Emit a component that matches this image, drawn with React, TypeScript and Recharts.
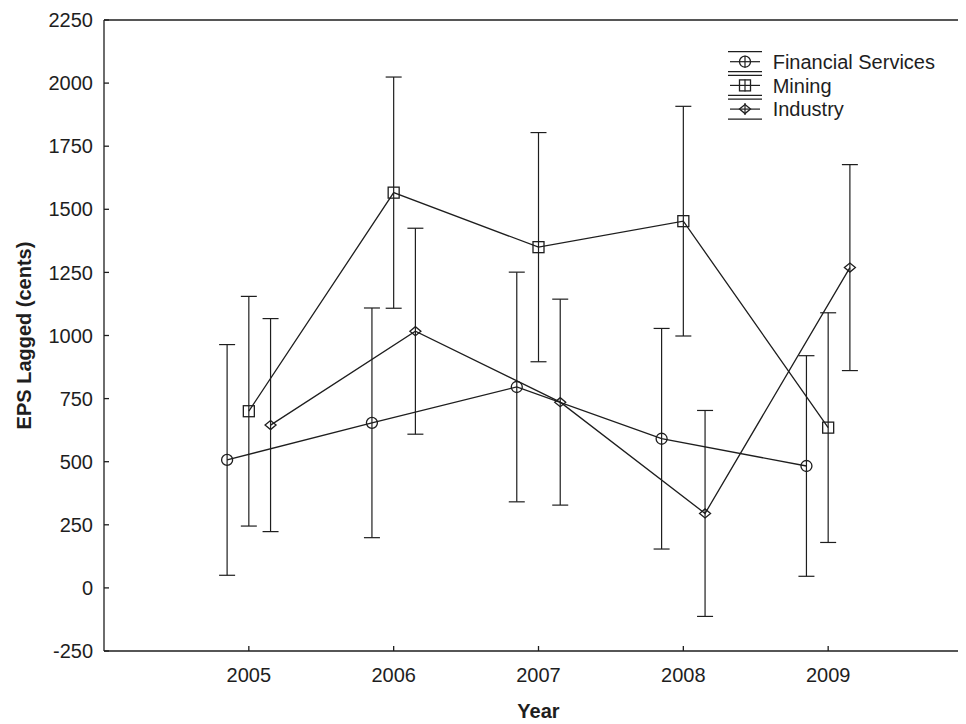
import React from 'react';
import { LineChart, Line, XAxis, YAxis, ErrorBar, Legend, ReferenceLine } from 'recharts';

const years = [2005, 2006, 2007, 2008, 2009];
const financialMean = [507, 654, 796, 591, 483];
const financialErr = [457, 455, 455, 437, 437];
const miningMean = [700, 1566, 1350, 1453, 635];
const miningErr = [455, 458, 454, 455, 455];
const industryMean = [645, 1017, 736, 295, 1269];
const industryErr = [422, 408, 408, 408, 408];
const yTicks = [-250, 0, 250, 500, 750, 1000, 1250, 1500, 1750, 2000, 2250];
const seriesNames = ['Financial Services', 'Mining', 'Industry'];

const DODGE = 0.15;
const INK = '#1e1e1e';
const FONT = '"Liberation Sans", Arial, Helvetica, sans-serif';

const build = (means: number[], errs: number[], shift: number) =>
  years.map((yr, i) => ({ x: yr + shift, y: means[i], err: errs[i] }));

const financialData = build(financialMean, financialErr, -DODGE);
const miningData = build(miningMean, miningErr, 0);
const industryData = build(industryMean, industryErr, DODGE);

const drawMarker = (kind: number, cx: number, cy: number, key?: any) => {
  if (kind === 0) {
    return <circle key={key} cx={cx} cy={cy} r={5.5} fill="none" stroke={INK} strokeWidth={1.3} />;
  }
  if (kind === 1) {
    return <rect key={key} x={cx - 5.5} y={cy - 5.5} width={11} height={11} fill="none" stroke={INK} strokeWidth={1.3} />;
  }
  return (
    <path
      key={key}
      d={`M${cx - 5.5},${cy} L${cx},${cy - 4.5} L${cx + 5.5},${cy} L${cx},${cy + 4.5} Z`}
      fill="none"
      stroke={INK}
      strokeWidth={1.3}
    />
  );
};

const makeDot = (kind: number) => (p: any) => {
  if (p.cx == null || p.cy == null) return <g key={p.key} />;
  return drawMarker(kind, p.cx, p.cy, p.key);
};

const LegendBox = () => {
  return (
    <svg width={240} height={95} style={{ fontFamily: FONT, overflow: 'visible' }}>
      {seriesNames.map((name: string, i: number) => {
        const cy = 23.7 + i * 23.7;
        const mx = 25;
        return (
          <g key={i}>
            <line x1={mx - 17} x2={mx + 17} y1={cy - 10} y2={cy - 10} stroke={INK} strokeWidth={1.2} />
            <line x1={mx - 17} x2={mx + 17} y1={cy + 10} y2={cy + 10} stroke={INK} strokeWidth={1.2} />
            <line x1={mx - 15} x2={mx + 15} y1={cy} y2={cy} stroke={INK} strokeWidth={1.2} />
            <line x1={mx} x2={mx} y1={cy - 6} y2={cy + 6} stroke={INK} strokeWidth={1.2} />
            {drawMarker(i, mx, cy)}
            <text x={52.7} y={cy} dy="0.36em" fontSize={20} fill={INK}>
              {name}
            </text>
          </g>
        );
      })}
    </svg>
  );
};

const YLabel = (props: any) => {
  const vb = props.viewBox || { x: 0, y: 0, width: 0, height: 0 };
  const x = vb.x + 16;
  const y = vb.y + vb.height / 2;
  return (
    <text
      x={x}
      y={y}
      transform={`rotate(-90, ${x}, ${y})`}
      textAnchor="middle"
      dy="0.36em"
      fontSize={20}
      fontWeight="bold"
      fill={INK}
    >
      EPS Lagged (cents)
    </text>
  );
};

export default function App() {
  return (
    <div style={{ width: 958, height: 716, overflow: 'hidden', background: '#fff' }}>
      <LineChart
        width={970}
        height={716}
        margin={{ top: 12, right: 5, bottom: 0, left: 0 }}
        style={{ fontFamily: FONT }}
      >
        <XAxis
          xAxisId="b"
          type="number"
          dataKey="x"
          domain={[2004, 2010]}
          ticks={years}
          height={73}
          tickSize={-5}
          tickMargin={22}
          stroke={INK}
          strokeWidth={1.3}
          tick={{ fill: INK, fontSize: 20 }}
          label={{ value: 'Year', position: 'insideBottom', offset: 6, fontSize: 20, fontWeight: 'bold', fill: INK }}
        />
        <YAxis
          type="number"
          domain={[-250, 2250]}
          ticks={yTicks}
          width={96}
          tickSize={-5}
          tickMargin={16}
          stroke={INK}
          strokeWidth={1.3}
          tick={{ fill: INK, fontSize: 20 }}
          label={(p: any) => <YLabel {...p} />}
        />
        <ReferenceLine xAxisId="b" y={2250} stroke={INK} strokeWidth={1.3} />
        <Legend
          layout="vertical"
          align="center"
          verticalAlign="middle"
          content={LegendBox}
          wrapperStyle={{ position: 'absolute', left: 712, top: 30, width: 240, height: 95 }}
        />
        <Line
          xAxisId="b"
          name={seriesNames[0]}
          data={financialData}
          dataKey="y"
          stroke={INK}
          strokeWidth={1.3}
          dot={makeDot(0)}
          activeDot={false}
          isAnimationActive={false}
        >
          <ErrorBar dataKey="err" width={8} stroke={INK} strokeWidth={1.2} direction="y" isAnimationActive={false} />
        </Line>
        <Line
          xAxisId="b"
          name={seriesNames[1]}
          data={miningData}
          dataKey="y"
          stroke={INK}
          strokeWidth={1.3}
          dot={makeDot(1)}
          activeDot={false}
          isAnimationActive={false}
        >
          <ErrorBar dataKey="err" width={8} stroke={INK} strokeWidth={1.2} direction="y" isAnimationActive={false} />
        </Line>
        <Line
          xAxisId="b"
          name={seriesNames[2]}
          data={industryData}
          dataKey="y"
          stroke={INK}
          strokeWidth={1.3}
          dot={makeDot(2)}
          activeDot={false}
          isAnimationActive={false}
        >
          <ErrorBar dataKey="err" width={8} stroke={INK} strokeWidth={1.2} direction="y" isAnimationActive={false} />
        </Line>
      </LineChart>
    </div>
  );
}
